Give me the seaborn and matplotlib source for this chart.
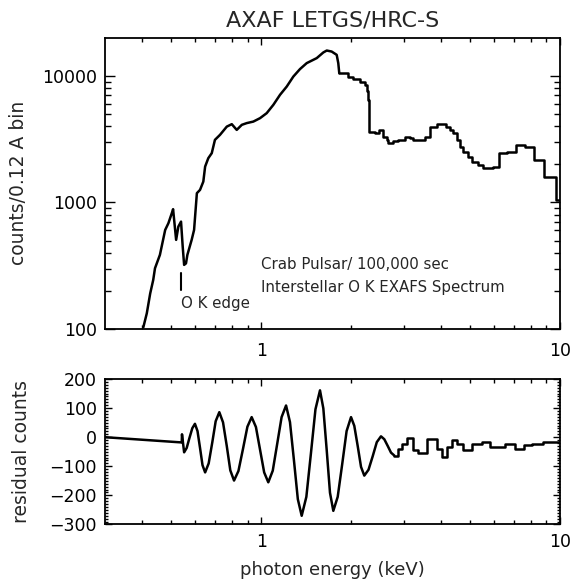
import numpy as np
import pandas as pd
import matplotlib
matplotlib.use("Agg")
import matplotlib.pyplot as plt
import seaborn as sns
from matplotlib.ticker import FixedLocator, NullFormatter, FuncFormatter, MultipleLocator

# ---------------- data ----------------
# Upper panel: count spectrum, smooth low-energy part (keV, counts)
spec_smooth_energy = [0.403, 0.414, 0.425, 0.435, 0.441, 0.458, 0.477, 0.489, 0.502, 0.507,
                      0.519, 0.528, 0.539, 0.546, 0.552, 0.560, 0.566, 0.585, 0.596, 0.609,
                      0.624, 0.640, 0.649, 0.665, 0.683, 0.700, 0.728, 0.767, 0.797, 0.828,
                      0.861, 0.894, 0.941, 0.991, 1.043, 1.098, 1.156, 1.217, 1.281, 1.348,
                      1.420, 1.534, 1.614, 1.657, 1.721, 1.789, 1.811, 1.825]
spec_smooth_counts = [103, 133, 191, 244, 302, 385, 606, 685, 822, 884,
                      506, 644, 705, 447, 321, 330, 385, 506, 606, 1183,
                      1256, 1460, 1919, 2235, 2449, 3120, 3420, 3970, 4150, 3740,
                      4100, 4230, 4350, 4630, 5070, 5900, 7080, 8220, 9870, 11300,
                      12600, 13800, 15300, 15840, 15550, 14650, 12600, 10500]

# Upper panel: binned high-energy part (bin left edge keV, counts)
spec_step_energy = [1.825, 1.956, 2.033, 2.141, 2.226, 2.255, 2.280, 2.300, 2.400, 2.470,
                    2.560, 2.630, 2.660, 2.770, 2.880, 3.030, 3.150, 3.230, 3.530, 3.670,
                    3.870, 4.170, 4.280, 4.390, 4.510, 4.630, 4.750, 4.930, 5.060, 5.330,
                    5.540, 5.980, 6.260, 6.630, 7.130, 7.640, 8.190, 8.860, 9.700, 10.00]
spec_step_counts = [10500, 9870, 9460, 9010, 8490, 7520, 6450, 3630, 3525, 3740,
                    3312, 3120, 2940, 3030, 3120, 3312, 3215, 3120, 3312, 3970,
                    4180, 3970, 3740, 3525, 3120, 2760, 2520, 2300, 2100, 1980,
                    1862, 1920, 2450, 2480, 2850, 2760, 2170, 1600, 1048, 1048]

# Lower panel: residuals, smooth part (keV, residual counts)
res_smooth_energy = [0.300, 0.542, 0.543, 0.552, 0.563, 0.575, 0.588, 0.600, 0.612, 0.624,
                     0.636, 0.649, 0.667, 0.686, 0.704, 0.724, 0.745, 0.767, 0.788, 0.811,
                     0.839, 0.869, 0.899, 0.929, 0.960, 0.991, 1.023, 1.056, 1.093, 1.131,
                     1.170, 1.211, 1.248, 1.287, 1.326, 1.366, 1.416, 1.467, 1.519, 1.573,
                     1.614, 1.657, 1.699, 1.743, 1.803, 1.867, 1.931, 1.998, 2.049, 2.104,
                     2.158, 2.213, 2.286, 2.362, 2.437, 2.517, 2.582, 2.651, 2.719, 2.789]
res_smooth_values = [0, -18, 10, -52, -37, -3, 31, 46, 21, -37,
                     -96, -121, -90, -17, 55, 86, 51, -31, -114, -149,
                     -116, -40, 36, 69, 35, -43, -121, -155, -115, -23,
                     69, 109, 52, -80, -213, -270, -205, -55, 96, 161,
                     99, -46, -191, -253, -205, -92, 21, 69, 39, -31,
                     -102, -132, -112, -65, -17, 3, -7, -30, -53, -63]

# Lower panel: residuals, binned part (bin left edge keV, residual counts)
res_step_energy = [2.789, 2.870, 2.960, 3.069, 3.228, 3.356, 3.487, 3.580, 3.868, 4.019,
                   4.178, 4.342, 4.512, 4.748, 5.064, 5.470, 5.833, 6.546, 7.070, 7.578,
                   8.040, 8.793, 10.00]
res_step_values = [-63, -40, -22, -4, -45, -53, -56, -7, -39, -68,
                   -33, -10, -22, -45, -22, -18, -33, -22, -39, -28,
                   -25, -16, -16]

edge_energy = 0.539
edge_marker_counts = [203, 276]

title_text = "AXAF LETGS/HRC-S"
upper_ylabel = "counts/0.12 A bin"
lower_ylabel = "residual counts"
xlabel_text = "photon energy (keV)"
note_lines = ["Crab Pulsar/ 100,000 sec", "Interstellar O K EXAFS Spectrum"]
edge_label = "O K edge"

# ---------------- figure ----------------
sns.set_style("ticks")
plt.rcParams['font.family'] = ['DejaVu Sans']
plt.rcParams['axes.linewidth'] = 1.3

fig = plt.figure(figsize=(5.71, 5.82), dpi=100)
fig.patch.set_facecolor("white")
ax1 = fig.add_axes([0.1839, 0.4347, 0.7968, 0.5005])
ax2 = fig.add_axes([0.1839, 0.0988, 0.7968, 0.2500])

ax1.set_xscale("log")
ax1.set_yscale("log")
ax2.set_xscale("log")

line_kw = dict(color="black", lw=1.8, estimator=None, sort=False, legend=False)

sns.lineplot(data=pd.DataFrame({"e": spec_smooth_energy, "c": spec_smooth_counts}),
             x="e", y="c", ax=ax1, **line_kw)
sns.lineplot(data=pd.DataFrame({"e": spec_step_energy, "c": spec_step_counts}),
             x="e", y="c", ax=ax1, drawstyle="steps-post", **line_kw)
ax1.plot([edge_energy, edge_energy], edge_marker_counts, color="black", lw=1.5)

sns.lineplot(data=pd.DataFrame({"e": res_smooth_energy, "r": res_smooth_values}),
             x="e", y="r", ax=ax2, **line_kw)
sns.lineplot(data=pd.DataFrame({"e": res_step_energy, "r": res_step_values}),
             x="e", y="r", ax=ax2, drawstyle="steps-post", **line_kw)

for ax in (ax1, ax2):
    ax.set_xlim(0.3, 10)
    ax.xaxis.set_major_locator(FixedLocator([1, 10]))
    ax.xaxis.set_minor_locator(FixedLocator([0.4, 0.5, 0.6, 0.7, 0.8, 0.9,
                                             2, 3, 4, 5, 6, 7, 8, 9]))
    ax.xaxis.set_major_formatter(FuncFormatter(lambda v, p: f"{v:g}"))
    ax.xaxis.set_minor_formatter(NullFormatter())
    ax.tick_params(which="both", direction="in", top=True, right=True,
                   labelsize=12.5, width=1.0, colors="black")
    ax.set_xlabel("")
    ax.set_ylabel("")
    for s in ax.spines.values():
        s.set_color("black")

ax1.set_ylim(100, 20000)
ax1.yaxis.set_major_locator(FixedLocator([100, 1000, 10000]))
ax1.yaxis.set_minor_locator(FixedLocator([200, 300, 400, 500, 600, 700, 800, 900,
                                          2000, 3000, 4000, 5000, 6000, 7000, 8000, 9000]))
ax1.yaxis.set_major_formatter(FuncFormatter(lambda v, p: f"{v:g}"))
ax1.yaxis.set_minor_formatter(NullFormatter())
ax1.tick_params(axis="x", which="major", length=5, pad=9)
ax1.tick_params(axis="x", which="minor", length=3)
ax1.tick_params(axis="y", which="major", length=7, pad=6)
ax1.tick_params(axis="y", which="minor", length=4)

ax2.set_ylim(-300, 200)
ax2.yaxis.set_major_locator(MultipleLocator(100))
ax2.yaxis.set_minor_locator(MultipleLocator(10))
ax2.tick_params(axis="x", which="major", length=5, pad=6)
ax2.tick_params(axis="x", which="minor", length=3)
ax2.tick_params(axis="y", which="major", length=5, pad=6)
ax2.tick_params(axis="y", which="minor", length=2.5)

ax1.set_title(title_text, fontsize=16, pad=8)
ax2.set_xlabel(xlabel_text, fontsize=13, labelpad=7)
fig.text(0.033, 0.686, upper_ylabel, rotation=90, ha="center", va="center", fontsize=13.5)
fig.text(0.037, 0.224, lower_ylabel, rotation=90, ha="center", va="center", fontsize=13.5)

ax1.text(1.0, 321, note_lines[0], fontsize=10.8, ha="left", va="center")
ax1.text(1.0, 214, note_lines[1], fontsize=10.8, ha="left", va="center")
ax1.text(edge_energy, 160, edge_label, fontsize=10.8, ha="left", va="center")

fig.savefig("out.png", dpi=100, facecolor="white")
